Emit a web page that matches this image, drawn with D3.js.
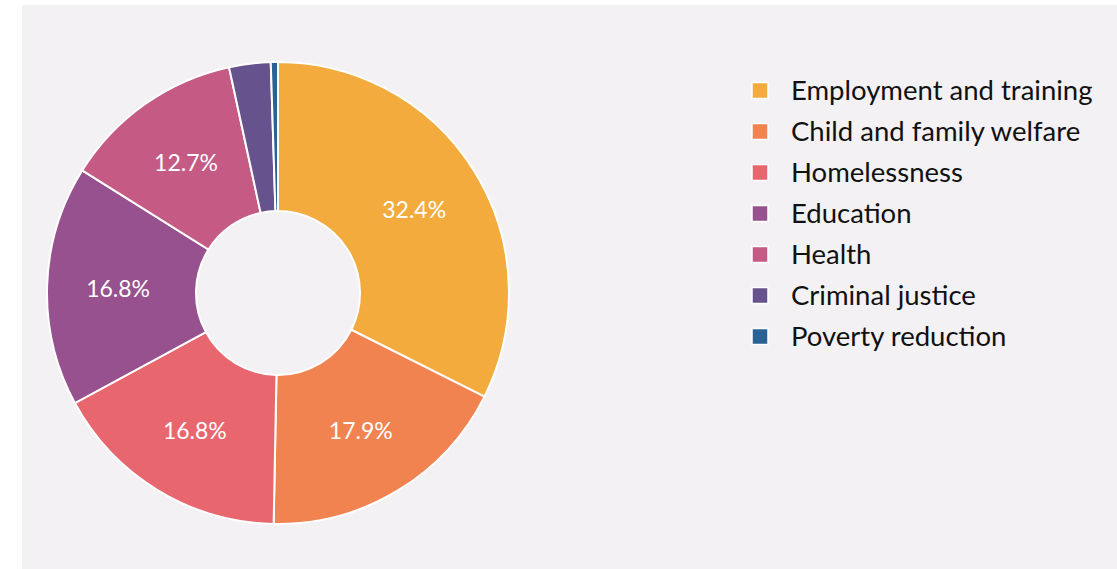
<!DOCTYPE html>
<html>
<head>
<meta charset="utf-8">
<script src="https://cdn.jsdelivr.net/npm/d3@7"></script>
<style>
  body { margin: 0; background: #fff; }
  #chart { position: absolute; left: 0; top: 0; }
  text { font-family: Lato, "Noto Sans", sans-serif; }
</style>
</head>
<body>
<div id="chart"></div>
<script>
// data (share of total, %)
var categories = ["Employment and training", "Child and family welfare", "Homelessness",
                  "Education", "Health", "Criminal justice", "Poverty reduction"];
var shares = [32.4, 17.9, 16.8, 16.8, 12.7, 2.9, 0.5];
var colours = ["#f3ab3e", "#f08350", "#e8676f", "#97518f", "#c55a84", "#66528c", "#2b6296"];

var width = 1117, height = 569;
var cx = 278, cy = 293;
var outerR = 231, innerR = 82;

var svg = d3.select("#chart").append("svg")
    .attr("width", width)
    .attr("height", height);

// grey panel
svg.append("rect")
    .attr("x", 22).attr("y", 5)
    .attr("width", width - 22).attr("height", height - 5)
    .style("fill", "#f3f1f3");

var data = categories.map(function(c, i) {
    return { name: c, value: shares[i], colour: colours[i] };
});

var pie = d3.pie()
    .sort(null)
    .value(function(d) { return d.value; });

var arc = d3.arc()
    .innerRadius(innerR)
    .outerRadius(outerR);

// labels sit a little outside the middle of the ring
var labelArc = d3.arc()
    .innerRadius(160)
    .outerRadius(160);

var g = svg.append("g")
    .attr("transform", "translate(" + cx + "," + cy + ")");

var slices = g.selectAll(".slice")
    .data(pie(data))
    .enter().append("g")
    .attr("class", "slice");

slices.append("path")
    .attr("d", arc)
    .style("fill", function(d) { return d.data.colour; })
    .style("stroke", "#fff")
    .style("stroke-width", 2);

// only the bigger slices get a label
slices.filter(function(d) { return d.data.value > 5; })
    .append("text")
    .attr("transform", function(d) { return "translate(" + labelArc.centroid(d) + ")"; })
    .attr("text-anchor", "middle")
    .attr("dy", "0.4em")
    .style("fill", "#fff")
    .style("font-size", "23px")
    .text(function(d) { return d.data.value.toFixed(1) + "%"; });

// legend
var legendY = d3.scaleBand()
    .domain(categories)
    .range([70, 357]);

var legend = svg.append("g").attr("class", "legend");

var item = legend.selectAll(".item")
    .data(data)
    .enter().append("g")
    .attr("class", "item")
    .attr("transform", function(d) {
        return "translate(0," + (legendY(d.name) + legendY.bandwidth() / 2) + ")";
    });

item.append("rect")
    .attr("x", 752).attr("y", -8)
    .attr("width", 16).attr("height", 16)
    .style("fill", function(d) { return d.colour; })
    .style("stroke", "#fff")
    .style("stroke-width", 1.5);

item.append("text")
    .attr("x", 791)
    .attr("dy", "0.36em")
    .style("fill", "#111")
    .style("font-size", "27.5px")
    .text(function(d) { return d.name; });
</script>
</body>
</html>
